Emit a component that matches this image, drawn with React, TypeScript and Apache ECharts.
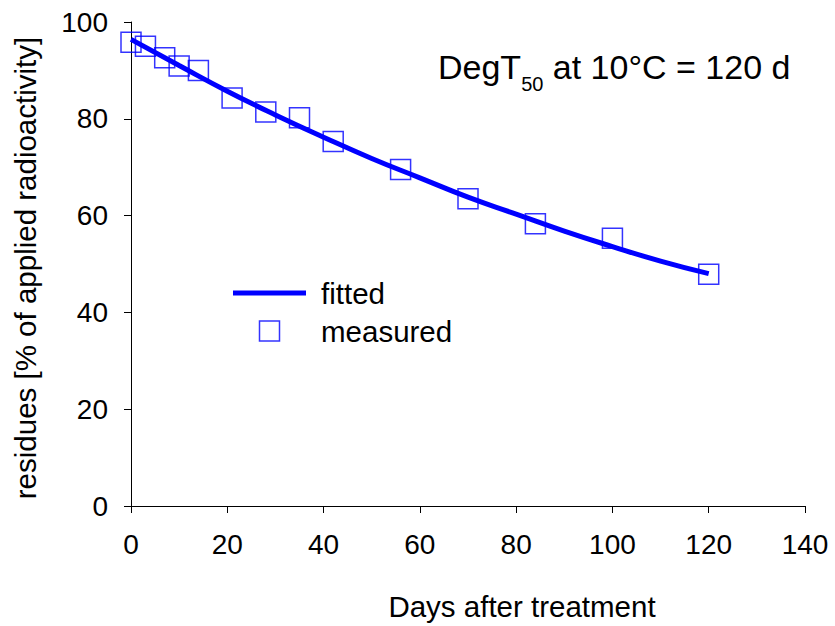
import React, { useEffect, useRef } from "react";
import * as echarts from "echarts";

const measuredDays = [0, 3, 7, 10, 14, 21, 28, 35, 42, 56, 70, 84, 100, 120];
const measuredValues = [95.8, 95.0, 92.6, 90.9, 90.0, 84.3, 81.4, 80.2, 75.3, 69.5, 63.5, 58.3, 55.3, 47.9];

const fittedDays = [0, 10, 20, 30, 40, 50, 60, 70, 80, 90, 100, 110, 120];
const fittedValues = [96.4, 91.0, 85.7, 80.8, 76.2, 71.8, 67.8, 63.8, 60.3, 56.8, 53.6, 50.6, 48.0];

const xTicks = { min: 0, max: 140, interval: 20 };
const yTicks = { min: 0, max: 100, interval: 20 };

const FONT = "'Liberation Sans', Arial, sans-serif";
const BLUE = "#0000ff";

export default function App() {
  const ref = useRef<HTMLDivElement>(null);

  useEffect(() => {
    document.body.style.margin = "0";
    if (!ref.current) return;
    const chart = echarts.init(ref.current, null, { renderer: "svg" });

    const measuredData = measuredDays.map((d, i) => [d, measuredValues[i]]);
    const fittedData = fittedDays.map((d, i) => [d, fittedValues[i]]);

    chart.setOption({
      animation: false,
      backgroundColor: "#ffffff",
      textStyle: { fontFamily: FONT, color: "#000" },
      grid: { left: 131, right: 30, top: 22, bottom: 118, containLabel: false },
      xAxis: {
        type: "value",
        min: xTicks.min,
        max: xTicks.max,
        interval: xTicks.interval,
        name: "Days after treatment",
        nameLocation: "middle",
        nameGap: 85,
        nameTextStyle: { fontSize: 29.5, color: "#000", fontFamily: FONT, padding: [0, 0, 0, 108] },
        axisLine: { show: true, lineStyle: { color: "#000", width: 1 } },
        axisTick: { show: true, inside: false, length: 7, lineStyle: { color: "#000" } },
        axisLabel: { fontSize: 28, color: "#000", margin: 24, fontFamily: FONT },
        splitLine: { show: false },
      },
      yAxis: {
        type: "value",
        min: yTicks.min,
        max: yTicks.max,
        interval: yTicks.interval,
        name: "residues [% of applied radioactivity]",
        nameLocation: "middle",
        nameGap: 91,
        nameTextStyle: { fontSize: 29.5, color: "#000", fontFamily: FONT, padding: [0, 8, 0, 0] },
        axisLine: { show: true, lineStyle: { color: "#000", width: 1 } },
        axisTick: { show: true, inside: false, length: 7, lineStyle: { color: "#000" } },
        axisLabel: { fontSize: 28, color: "#000", margin: 23, fontFamily: FONT },
        splitLine: { show: false },
      },
      legend: {
        orient: "vertical",
        left: 233,
        top: 278,
        padding: 0,
        itemWidth: 73,
        itemHeight: 20,
        itemGap: 8,
        textStyle: { fontSize: 29.5, color: "#000", fontFamily: FONT, padding: [0, 0, 0, 10], lineHeight: 30 },
        data: [
          {
            name: "fitted",
            icon: "path://M0,0 L73,0 L73,5 L0,5 Z",
            itemStyle: { color: BLUE, borderWidth: 0 },
          },
          {
            name: "measured",
            icon: "path://M0,0 L10,0 L10,10 L0,10 Z",
            itemStyle: { color: "transparent", borderColor: BLUE, borderWidth: 1.5 },
          },
        ],
      },
      graphic: [
        {
          type: "text",
          left: 438,
          top: 50,
          style: {
            text: "{a|DegT}{s|50}{a| at 10°C = 120 d}",
            fontFamily: FONT,
            rich: {
              a: { fontSize: 34, lineHeight: 54, fontFamily: FONT, fill: "#000" },
              s: { fontSize: 20, lineHeight: 20, verticalAlign: "bottom", fontFamily: FONT, fill: "#000" },
            },
          },
        },
      ],
      series: [
        {
          name: "measured",
          type: "scatter",
          data: measuredData,
          symbol: "rect",
          symbolSize: 20,
          itemStyle: { color: "transparent", borderColor: BLUE, borderWidth: 1.5 },
          z: 2,
        },
        {
          name: "fitted",
          type: "line",
          data: fittedData,
          smooth: true,
          symbol: "none",
          lineStyle: { color: BLUE, width: 5 },
          itemStyle: { color: BLUE },
          z: 3,
        },
      ],
    });

    return () => chart.dispose();
  }, []);

  return <div ref={ref} style={{ width: 835, height: 626 }} />;
}
